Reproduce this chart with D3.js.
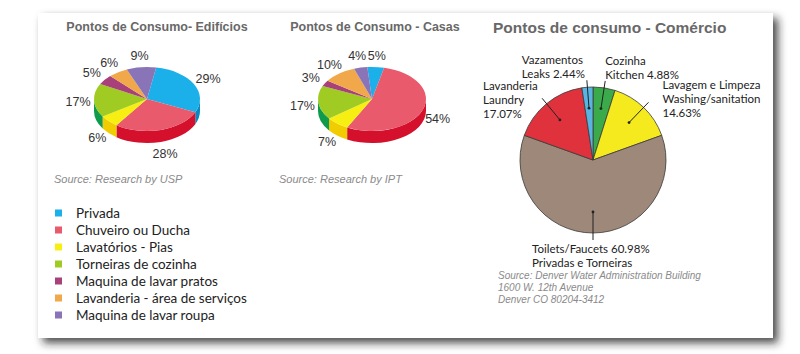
<html>
<head>
<script src="https://d3js.org/d3.v7.min.js"></script>
<style>
  body { margin: 0; background: #fff; }
  svg text { font-family: "Liberation Sans", Arial, sans-serif; }
</style>
</head>
<body>
<svg id="chart" width="800" height="354"></svg>
<script>
  // categories shared by the two 3D pies (legend order)
  const categories = ["Privada", "Chuveiro ou Ducha", "Lavatórios - Pias", "Torneiras de cozinha",
    "Maquina de lavar pratos", "Lavanderia - área de serviços", "Maquina de lavar roupa"];
  const edificiosValues = [29, 28, 6, 17, 5, 6, 9];
  const casasValues = [5, 54, 7, 17, 3, 10, 4];
  const topColors = ["#1cb0ea", "#e85a6c", "#f7ef12", "#9fcb22", "#a8407a", "#f0a84a", "#8a74b8"];
  const sideColors = ["#0a88c0", "#d4102c", "#f0cc00", "#0f9a4c", "#86205a", "#d88020", "#6650a0"];

  // commerce pie, clockwise from 12 o'clock
  const comercioValues = [4.88, 14.63, 60.98, 17.07, 2.44];
  const comercioLabels = [
    ["Cozinha", "Kitchen 4.88%"],
    ["Lavagem e Limpeza", "Washing/sanitation", "14.63%"],
    ["Toilets/Faucets 60.98%", "Privadas e Torneiras"],
    ["Lavanderia", "Laundry", "17.07%"],
    ["Vazamentos", "Leaks 2.44%"]
  ];
  const comercioColors = ["#3aaa4a", "#f5ea1e", "#9e887a", "#e0323c", "#5ab4e2"];
  // where each label block sits relative to the end of its leader line
  const comercioLabelPos = [
    { dx: 0, dy: -16 },
    { dx: 14, dy: -13 },
    { dx: -61, dy: 13 },
    { dx: -59, dy: -8 },
    { dx: -65, dy: -16 }
  ];

  const svg = d3.select("#chart")

  const defs = svg.append("defs")
  const shadow = defs.append("filter").attr("id", "shadow")
    .attr("x", "-10%").attr("y", "-10%").attr("width", "120%").attr("height", "120%")
  shadow.append("feDropShadow")
    .attr("dx", 5).attr("dy", 5).attr("stdDeviation", 4)
    .attr("flood-color", "#222").attr("flood-opacity", 0.8)

  svg.append("rect")
    .attr("x", 38).attr("y", 13).attr("width", 735).attr("height", 325)
    .attr("fill", "#fff")
    .attr("filter", "url(#shadow)")

  function pie3d(values, cx, cy, rx, ry, depth, startDeg) {
    const g = svg.append("g")
    const start = startDeg * Math.PI / 180
    const arcs = d3.pie().sort(null).startAngle(start).endAngle(start + 2 * Math.PI)(values)
    const p = (a, off = 0) => [cx + rx * Math.sin(a), cy - ry * Math.cos(a) + off]

    // side walls (front half only)
    g.selectAll("path.side").data(arcs)
      .join("path")
      .attr("class", "side")
      .attr("d", d => {
        const s0 = Math.max(d.startAngle, Math.PI / 2)
        const s1 = Math.min(d.endAngle, 3 * Math.PI / 2)
        if (s1 <= s0) return null
        return `M${p(s0)}A${rx},${ry} 0 0 1 ${p(s1)}L${p(s1, depth)}A${rx},${ry} 0 0 0 ${p(s0, depth)}Z`
      })
      .style("fill", (d, i) => sideColors[i])

    g.selectAll("path.top").data(arcs)
      .join("path")
      .attr("class", "top")
      .attr("d", d => {
        const large = d.endAngle - d.startAngle > Math.PI ? 1 : 0
        return `M${cx},${cy}L${p(d.startAngle)}A${rx},${ry} 0 ${large} 1 ${p(d.endAngle)}Z`
      })
      .style("fill", (d, i) => topColors[i])

    g.selectAll("text.pct").data(arcs)
      .join("text")
      .attr("class", "pct")
      .attr("x", d => {
        const m = (d.startAngle + d.endAngle) / 2
        return cx + (rx + 16) * Math.sin(m)
      })
      .attr("y", d => {
        const m = (d.startAngle + d.endAngle) / 2
        const c = Math.cos(m)
        return cy - (ry + 12) * c + (c < 0 ? -c * depth : 0)
      })
      .attr("dy", "0.36em")
      .attr("text-anchor", "middle")
      .style("font-size", "12.5px")
      .style("fill", "#333")
      .text(d => d.data + "%")
  }

  function title(text, x, y, size, anchor) {
    svg.append("text").attr("x", x).attr("y", y)
      .attr("text-anchor", anchor)
      .style("font-size", size).style("font-weight", "bold").style("fill", "#686868")
      .text(text)
  }

  function source(lines, x, y, size) {
    lines.forEach((t, i) => {
      svg.append("text").attr("x", x).attr("y", y + i * 12)
        .style("font-size", size).style("font-style", "italic").style("fill", "#8a8a8a")
        .text(t)
    })
  }

  title("Pontos de Consumo- Edifícios", 157, 31, "12.5px", "middle")
  title("Pontos de Consumo - Casas", 375, 31, "12.5px", "middle")
  title("Pontos de consumo - Comércio", 493, 33, "15.5px", "start")

  pie3d(edificiosValues, 147, 99, 53, 32, 12, 10)
  pie3d(casasValues, 372, 99, 54, 32, 12, -5)

  source(["Source: Research by USP"], 54, 183, "11px")
  source(["Source: Research by IPT"], 279, 183, "11px")
  source(["Source: Denver Water Administration Building", "1600 W. 12th Avenue", "Denver CO 80204-3412"], 498, 279, "10px")

  // legend
  const legend = svg.append("g").attr("transform", "translate(55,213)")
  const rows = legend.selectAll("g").data(categories).join("g")
    .attr("transform", (d, i) => `translate(0,${i * 17})`)
  rows.append("rect").attr("x", 0).attr("y", -3.5).attr("width", 7).attr("height", 7)
    .style("fill", (d, i) => topColors[i])
  rows.append("text").attr("x", 21).attr("dy", "0.36em")
    .style("font-family", "Lato, sans-serif").style("font-size", "13.5px").style("fill", "#222")
    .text(d => d)

  // commerce pie
  const cx = 593, cy = 160, r = 73
  const carcs = d3.pie().sort(null)(comercioValues)
  const arc = d3.arc().innerRadius(0).outerRadius(r)
  const cg = svg.append("g").attr("transform", `translate(${cx},${cy})`)
  cg.selectAll("path").data(carcs).join("path")
    .attr("d", arc)
    .style("fill", (d, i) => comercioColors[i])
    .style("stroke", "#3a3a3a").style("stroke-width", 0.8)

  const inner = d3.arc().innerRadius(52).outerRadius(52)
  const outer = d3.arc().innerRadius(80).outerRadius(80)
  cg.selectAll("line").data(carcs).join("line")
    .attr("x1", d => inner.centroid(d)[0]).attr("y1", d => inner.centroid(d)[1])
    .attr("x2", d => outer.centroid(d)[0]).attr("y2", d => outer.centroid(d)[1])
    .style("stroke", "#222").style("stroke-width", 1)
  cg.selectAll("circle").data(carcs).join("circle")
    .attr("cx", d => inner.centroid(d)[0]).attr("cy", d => inner.centroid(d)[1])
    .attr("r", 1.4).style("fill", "#222")

  cg.selectAll("text.lbl").data(carcs).join("text")
    .attr("class", "lbl")
    .attr("transform", (d, i) => {
      const e = outer.centroid(d)
      return `translate(${e[0] + comercioLabelPos[i].dx},${e[1] + comercioLabelPos[i].dy})`
    })
    .style("font-family", "Lato, sans-serif").style("font-size", "11.5px").style("fill", "#222")
    .selectAll("tspan").data((d, i) => comercioLabels[i]).join("tspan")
    .attr("x", 0).attr("y", (t, j) => j * 14)
    .text(t => t)
</script>
</body>
</html>
